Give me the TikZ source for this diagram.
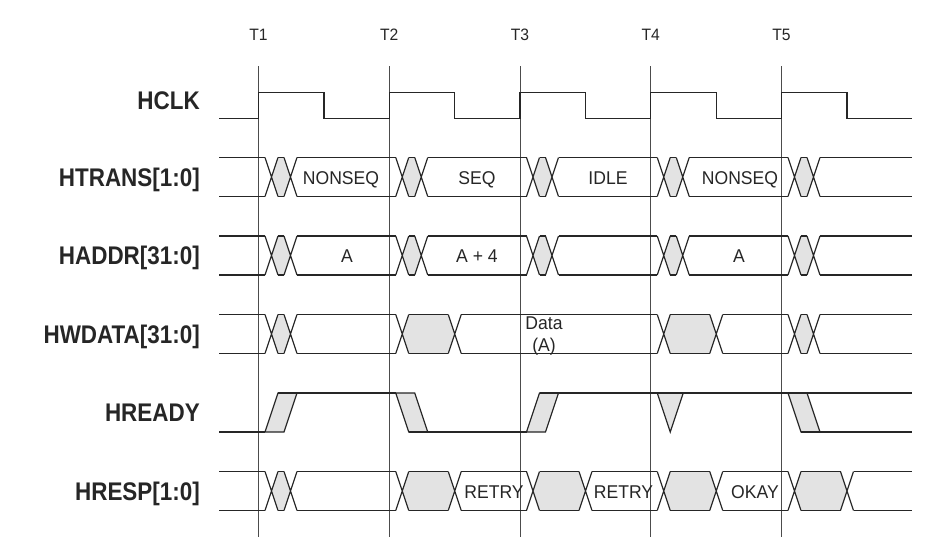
\documentclass[tikz,border=0pt]{standalone}
\usepackage{fontspec}
\newfontfamily\lblfont{Liberation Sans}[FakeStretch=0.88]
\newfontfamily\valfont{Liberation Sans}[FakeStretch=0.95]
\usepackage{xcolor}
\definecolor{wave}{HTML}{262626}
\definecolor{xgray}{HTML}{E3E3E3}
\usepackage{tikz}
\usetikzlibrary{calc}
\tikzset{
  sig/.style   ={draw=wave, line width=1.2pt, line join=miter},
  tline/.style ={draw=black!70, line width=0.9pt},
  xfill/.style ={fill=xgray},
  siglbl/.style={font=\lblfont\bfseries\fontsize{25.5}{28}\selectfont, text=wave,
                 anchor=base east, inner sep=0pt},
  val/.style   ={font=\valfont\fontsize{18.5}{22.4}\selectfont, text=wave,
                 anchor=base, inner sep=0pt},
  tlbl/.style  ={font=\valfont\fontsize{16.5}{18}\selectfont, text=wave,
                 anchor=base, inner sep=0pt},
}
% clock edges T1..T5
\def\tA{258.5}\def\tB{389.25}\def\tC{520}\def\tD{650.75}\def\tE{781.5}
% bus row: #1 top, #2 bottom, #3 starts of the X transitions
\newcommand{\busrow}[3]{%
  \draw[sig] \foreach \x [remember=\x as \lx (initially 206)] in {#3,912}
    {(\lx+13,#1) -- (\x,#1) (\lx+13,#2) -- (\x,#2)};
  \draw[sig] \foreach \x in {#3}{(\x,#1) -- ++(13,#2-#1) (\x,#2) -- ++(13,#1-#2)};}
% grey invalid part between two transitions
\newcommand{\xgap}[4]{%
  \path[xfill] (#1+6.5,{(#3+#4)/2}) -- (#1+13,#3) -- (#2,#3) -- (#2+6.5,{(#3+#4)/2})
    -- (#2,#4) -- (#1+13,#4) -- cycle;}

\begin{document}
\begin{tikzpicture}[x=1pt, y=-1pt]
  \useasboundingbox (0,0) rectangle (934,549);
  \foreach \t/\n in {\tA/1,\tB/2,\tC/3,\tD/4,\tE/5}{
    \draw[tline] (\t,66) -- (\t,537);
    \node[tlbl] (t\n) at (\t,40) {T\n};
  }

  \node[siglbl] (hclk)   at (200,109)   {HCLK};
  \node[siglbl] (htrans) at (200,186)   {HTRANS[1:0]};
  \node[siglbl] (haddr)  at (200,264.5) {HADDR[31:0]};
  \node[siglbl] (hwdata) at (200,343)   {HWDATA[31:0]};
  \node[siglbl] (hready) at (200,421.5) {HREADY};
  \node[siglbl] (hresp)  at (200,500)   {HRESP[1:0]};

  % HCLK
  \draw[sig] (219,118.5) \foreach \t in {\tA,\tB,\tC,\tD,\tE}
    { -- (\t,118.5) -- (\t,92.5) -- (\t+65.4,92.5) -- (\t+65.4,118.5)} -- (912,118.5);

  % HTRANS and HADDR
  \foreach \t in {\tA,\tB,\tC,\tD,\tE}{
    \xgap{\t+6.5}{\t+25.5}{157.5}{196.5}
    \xgap{\t+6.5}{\t+25.5}{236}{275}
  }
  \busrow{157.5}{196.5}{\tA+6.5,\tA+25.5,\tB+6.5,\tB+25.5,\tC+6.5,\tC+25.5,\tD+6.5,\tD+25.5,\tE+6.5,\tE+25.5}
  \busrow{236}{275}{\tA+6.5,\tA+25.5,\tB+6.5,\tB+25.5,\tC+6.5,\tC+25.5,\tD+6.5,\tD+25.5,\tE+6.5,\tE+25.5}
  \node[val] (nonseqA) at (341,184) {NONSEQ};
  \node[val] (seq)     at (477,184) {SEQ};
  \node[val] (idle)    at (608,184) {IDLE};
  \node[val] (nonseqB) at (740,184) {NONSEQ};
  \node[val] (addrA)   at (347,262.5) {A};
  \node[val] (addrB)   at (477,262.5) {A + 4};
  \node[val] (addrC)   at (739,262.5) {A};

  % HWDATA
  \xgap{\tA+6.5}{\tA+25.5}{314.5}{353.5}
  \xgap{\tB+6.5}{\tB+59}{314.5}{353.5}
  \xgap{\tD+6.5}{\tD+59}{314.5}{353.5}
  \xgap{\tE+6.5}{\tE+25.5}{314.5}{353.5}
  \busrow{314.5}{353.5}{\tA+6.5,\tA+25.5,\tB+6.5,\tB+59,\tD+6.5,\tD+59,\tE+6.5,\tE+25.5}
  \node[val, anchor=center, align=center] (data) at (544,336) {Data\\(A)};

  % HREADY
  \filldraw[sig, xfill] (\tA+6.5,432) -- (\tA+19.5,393) -- (\tA+38.5,393) -- (\tA+25.5,432) -- cycle;
  \filldraw[sig, xfill] (\tB+6.5,393) -- (\tB+25.5,393) -- (\tB+38.5,432) -- (\tB+19.5,432) -- cycle;
  \filldraw[sig, xfill] (\tC+6.5,432) -- (\tC+19.5,393) -- (\tC+38.5,393) -- (\tC+25.5,432) -- cycle;
  \filldraw[sig, xfill] (\tD+6.5,393) -- (\tD+32.5,393) -- (\tD+19.5,432) -- cycle;
  \filldraw[sig, xfill] (\tE+6.5,393) -- (\tE+25.5,393) -- (\tE+38.5,432) -- (\tE+19.5,432) -- cycle;
  \draw[sig] (219,432) -- (\tA+6.5,432)
             (\tA+19.5,393) -- (\tB+6.5,393)
             (\tB+19.5,432) -- (\tC+6.5,432)
             (\tC+19.5,393) -- (912,393)
             (\tE+19.5,432) -- (912,432);

  % HRESP
  \xgap{\tA+6.5}{\tA+25.5}{471.5}{510.5}
  \foreach \t in {\tB,\tC,\tD,\tE}{\xgap{\t+6.5}{\t+59}{471.5}{510.5}}
  \busrow{471.5}{510.5}{\tA+6.5,\tA+25.5,\tB+6.5,\tB+59,\tC+6.5,\tC+59,\tD+6.5,\tD+59,\tE+6.5,\tE+59}
  \node[val] (retryA) at (494,498)   {RETRY};
  \node[val] (retryB) at (623.5,498) {RETRY};
  \node[val] (okay)   at (755,498)   {OKAY};
\end{tikzpicture}
\end{document}
